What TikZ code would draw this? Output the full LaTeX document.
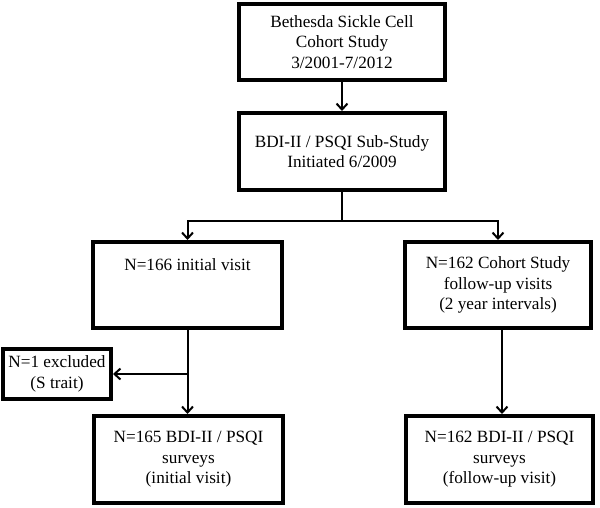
\documentclass[tikz,border=0pt]{standalone}
\usepackage{fontspec}
\setmainfont{Liberation Serif}
\usetikzlibrary{arrows.meta}
\begin{document}
\begin{tikzpicture}[x=1pt,y=-1pt,
  box/.style={draw=black, line width=4pt, fill=white, align=center, inner sep=0pt,
    font=\fontsize{17.2}{20.5}\selectfont},
  arr/.style={draw=black, line width=2pt, -{Straight Barb[length=6pt,width=11pt,line width=2pt]}},
  ln/.style={draw=black, line width=2pt}]
\useasboundingbox (0,0) rectangle (600,507);
\node[box, minimum width=206pt, minimum height=76pt] (b1) at (342,42) {Bethesda Sickle Cell\\Cohort Study\\3/2001-7/2012};
\node[box, minimum width=206pt, minimum height=77pt] (b2) at (342,151.5) {BDI-II / PSQI Sub-Study\\Initiated 6/2009};
\node[box, minimum width=189pt, minimum height=86pt,
  label={[font=\fontsize{17.2}{20.5}\selectfont, anchor=north, inner sep=0pt, yshift=-18pt]north:N=166 initial visit}] (b3) at (187.5,285) {};
\node[box, minimum width=186pt, minimum height=86pt] (b4) at (498,285) {N=162 Cohort Study\\follow-up visits\\(2 year intervals)};
\node[box, minimum width=108pt, minimum height=50pt] (ex) at (57,374) {N=1 excluded\\(S trait)};
\node[box, minimum width=189pt, minimum height=87pt] (b5) at (188.5,459.5) {N=165 BDI-II / PSQI\\surveys\\(initial visit)};
\node[box, minimum width=187pt, minimum height=87pt] (b6) at (499.5,459.5) {N=162 BDI-II / PSQI\\surveys\\(follow-up visit)};
\coordinate (j) at (342,221);
\draw[arr] (b1.south) -- (b2.north);
\draw[ln] (b2.south) -- (j);
\draw[arr] (j) -| (b3.north);
\draw[arr] (j) -| (b4.north);
\draw[arr] (b3.south) -- (b3.south |- b5.north);
\draw[arr] (b3.south |- ex.east) -- (ex.east);
\draw[arr] ([xshift=4pt]b4.south) -- ([xshift=4pt]b4.south |- b6.north);
\end{tikzpicture}
\end{document}
